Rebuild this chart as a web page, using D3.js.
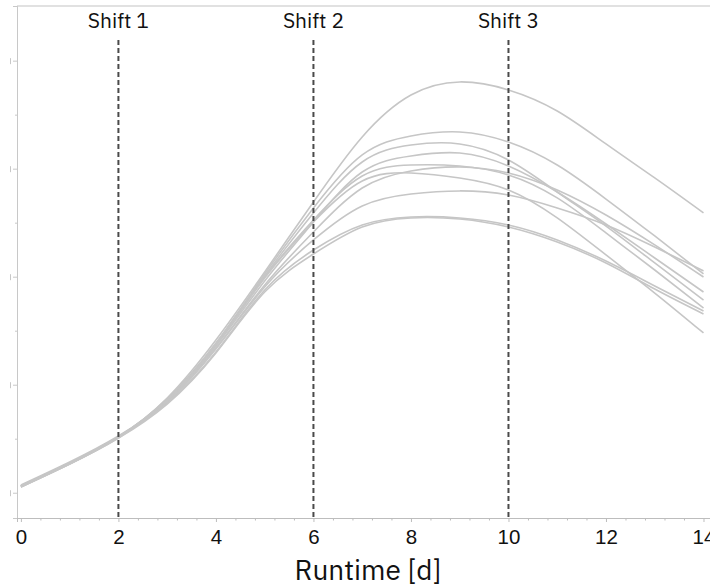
<!DOCTYPE html>
<html>
<head>
<meta charset="utf-8">
<script src="https://cdn.jsdelivr.net/npm/d3@7"></script>
<style>
  body { margin: 0; background: #fff; }
  svg { display: block; font-family: "IBM Plex Sans", "Noto Sans", sans-serif; }
</style>
</head>
<body>
<div id="chart"></div>
<script>
/* runtime curves, one per run, sampled once a day */

const runtimeDays = [0, 1, 2, 3, 4, 5, 6, 7, 8, 9, 10, 11, 12, 13, 14];

const runA = [0.062, 0.275, 0.516, 0.877, 1.414, 2.044, 2.692, 3.294, 3.682, 3.803, 3.729, 3.534, 3.229, 2.914, 2.590];
const runB = [0.062, 0.275, 0.516, 0.868, 1.386, 2.025, 2.636, 3.127, 3.303, 3.340, 3.247, 3.034, 2.719, 2.377, 2.025];
const runC = [0.053, 0.266, 0.516, 0.868, 1.377, 2.006, 2.590, 3.062, 3.219, 3.229, 3.081, 2.784, 2.469, 2.127, 1.784];
const runD = [0.062, 0.275, 0.516, 0.849, 1.358, 1.960, 2.506, 2.969, 3.118, 3.145, 3.025, 2.784, 2.488, 2.173, 1.858];
const runE = [0.071, 0.284, 0.525, 0.858, 1.377, 1.997, 2.525, 2.932, 3.034, 3.025, 2.942, 2.729, 2.405, 2.062, 1.710];
const runF = [0.053, 0.266, 0.506, 0.849, 1.340, 1.923, 2.414, 2.821, 2.979, 3.016, 2.960, 2.803, 2.571, 2.294, 1.997];
const runG = [0.062, 0.275, 0.516, 0.858, 1.368, 1.988, 2.506, 2.886, 2.960, 2.914, 2.803, 2.544, 2.201, 1.849, 1.479];
const runH = [0.062, 0.275, 0.516, 0.840, 1.331, 1.905, 2.340, 2.655, 2.766, 2.794, 2.756, 2.636, 2.479, 2.275, 2.053];
const runI = [0.062, 0.275, 0.516, 0.831, 1.303, 1.877, 2.247, 2.479, 2.553, 2.544, 2.479, 2.340, 2.145, 1.914, 1.682];
const runJ = [0.053, 0.266, 0.506, 0.821, 1.294, 1.858, 2.210, 2.460, 2.544, 2.534, 2.460, 2.321, 2.127, 1.886, 1.655];

const runs = [runA, runB, runC, runD, runE, runF, runG, runH, runI, runJ];

const shiftDays = [2, 6, 10];
const shiftLabels = ["Shift 1", "Shift 2", "Shift 3"];

const xTickValues = [0, 2, 4, 6, 8, 10, 12, 14];
const yTickValues = [0, 1, 2, 3, 4];
const yMinorTickValues = [0.5, 1.5, 2.5, 3.5];

const size = { width: 710, height: 587 };
const margin = { top: 6, left: 17 };
const plot = { width: 706, height: 512 };

const xScale = d3.scaleLinear().domain([-0.08, 14.4]).range([0, plot.width]);
const yScale = d3.scaleLinear().domain([-0.234, 4.506]).range([plot.height, 0]);

const svg = d3.select("#chart").append("svg")
  .attr("width", size.width)
  .attr("height", size.height);

const graph = svg.append("g")
  .attr("transform", "translate(" + margin.left + "," + margin.top + ")");

// frame top
graph.append("line")
  .attr("x1", 0).attr("x2", plot.width)
  .attr("y1", 0).attr("y2", 0)
  .style("stroke", "#c4c4c4")
  .style("stroke-width", 1.2);

// y axis: no visible labels, just ticks
const yAxis = graph.append("g")
  .attr("class", "y axis")
  .call(d3.axisLeft(yScale).tickValues(yTickValues).tickSize(4).tickFormat(""));

yAxis.selectAll(".tick").append("line")
  .attr("x1", -6.5).attr("x2", -6.5)
  .attr("y1", -3).attr("y2", 3)
  .style("stroke", "#9a9a9a");

graph.append("g")
  .attr("class", "y axis minor")
  .call(d3.axisLeft(yScale).tickValues(yMinorTickValues).tickSize(2).tickFormat(""));

graph.selectAll(".y.axis path, .y.axis .tick line")
  .style("stroke", "#c8c8c8");

// x axis with minor ticks every 0.4 d
const minorX = d3.range(0, 14.4, 0.4).filter(d => Math.abs(d / 2 - Math.round(d / 2)) > 0.01);

graph.append("g")
  .attr("class", "x axis minor")
  .attr("transform", "translate(0," + plot.height + ")")
  .call(d3.axisBottom(xScale).tickValues(minorX).tickSize(2.5).tickFormat(""));

const xAxis = graph.append("g")
  .attr("class", "x axis")
  .attr("transform", "translate(0," + plot.height + ")")
  .call(d3.axisBottom(xScale).tickValues(xTickValues).tickSize(4).tickFormat(d3.format("d")));

graph.selectAll(".x.axis path, .x.axis .tick line")
  .style("stroke", "#bdbdbd");

xAxis.selectAll("text")
  .attr("y", 26)
  .attr("dy", 0)
  .style("font-size", "20.5px")
  .style("fill", "#111");

graph.append("text")
  .attr("text-anchor", "middle")
  .attr("x", plot.width / 2 - 2)
  .attr("y", 574)
  .style("font-size", "28px")
  .style("fill", "#111")
  .text("Runtime [d]");

// run curves
const line = d3.line()
  .x((d, i) => xScale(runtimeDays[i]))
  .y(d => yScale(d))
  .curve(d3.curveNatural);

graph.selectAll(".run")
  .data(runs)
  .enter().append("path")
  .attr("class", "run")
  .attr("d", line)
  .style("fill", "none")
  .style("stroke", "#c6c6c6")
  .style("stroke-width", 1.6);

// shift markers
graph.selectAll(".shift")
  .data(shiftDays)
  .enter().append("line")
  .attr("class", "shift")
  .attr("x1", d => xScale(d)).attr("x2", d => xScale(d))
  .attr("y1", 34).attr("y2", plot.height)
  .style("stroke", "#4a4a4a")
  .style("stroke-width", 2)
  .style("stroke-dasharray", "5,3");

graph.selectAll(".shift-label")
  .data(shiftDays)
  .enter().append("text")
  .attr("class", "shift-label")
  .attr("text-anchor", "middle")
  .attr("x", d => xScale(d))
  .attr("y", 22)
  .style("font-size", "21px")
  .style("fill", "#111")
  .text((d, i) => shiftLabels[i]);
</script>
</body>
</html>
